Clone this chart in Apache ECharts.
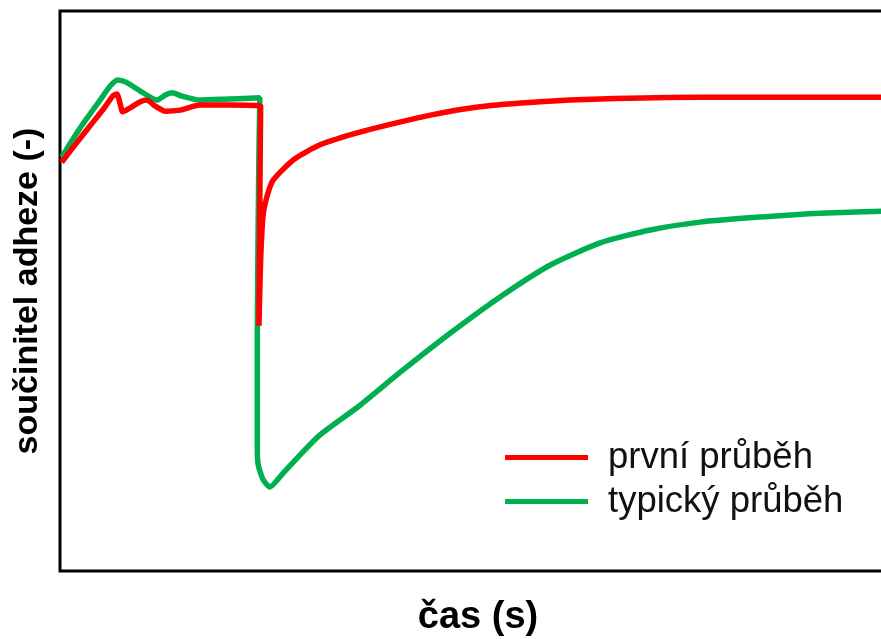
<!DOCTYPE html>
<html>
<head>
<meta charset="utf-8">
<script src="https://cdn.jsdelivr.net/npm/echarts@6/dist/echarts.min.js"></script>
<style>
  html, body { margin: 0; padding: 0; background: #fff; }
  #chart { width: 881px; height: 639px; }
</style>
</head>
<body>
<div id="chart"></div>
<script>
var chart = echarts.init(document.getElementById("chart"));

// čas (s) a součinitel adheze (-)
var prvniCas = [0.2, 1.8, 3.6, 5.4, 6.3, 6.8, 7.2, 7.5, 8.4, 9.6, 10.4, 11.4, 12.6, 14.4, 16.7, 20.3, 24.0,
  23.9, 23.8, 24.0, 24.3, 24.8, 25.5, 27.9, 31.1, 35.0, 38.3, 44.3, 50.2, 57.4, 64.6, 76.6, 88.5, 100];
var prvniHodnoty = [0.730, 0.761, 0.795, 0.829, 0.848, 0.852, 0.834, 0.820, 0.827, 0.838, 0.841, 0.830, 0.821, 0.823, 0.832, 0.832, 0.830,
  0.663, 0.438, 0.555, 0.636, 0.671, 0.698, 0.734, 0.761, 0.780, 0.793, 0.814, 0.829, 0.838, 0.843, 0.846, 0.846, 0.846];

var typickyCas = [0.2, 2.4, 4.8, 6.0, 6.9, 7.9, 9.6, 11.6, 12.6, 13.4, 14.6, 16.7, 20.3, 23.9,
  23.8, 23.6, 23.6, 23.7, 24.3, 25.1, 26.7, 28.7, 31.1, 35.9, 40.7, 46.7, 52.6, 58.6, 64.6, 70.6, 76.6, 83.7, 90.9, 100];
var typickyHodnoty = [0.739, 0.791, 0.841, 0.866, 0.877, 0.873, 0.857, 0.841, 0.850, 0.854, 0.848, 0.841, 0.843, 0.845,
  0.752, 0.430, 0.221, 0.190, 0.163, 0.150, 0.175, 0.207, 0.243, 0.296, 0.355, 0.425, 0.489, 0.546, 0.586, 0.609, 0.623, 0.632, 0.639, 0.643];

var nazvy = ["první průběh", "typický průběh"];

function pary(xs, ys) {
  var res = [];
  for (var i = 0; i < xs.length; i++) {
    res.push([xs[i], ys[i]]);
  }
  return res;
}

var font = "'Liberation Sans', Arial, sans-serif";

var option = {
  animation: false,
  grid: {
    show: true,
    left: 60,
    top: 11,
    right: -15,
    bottom: 68,
    outerBoundsMode: "none",
    containLabel: false,
    borderColor: "#000",
    borderWidth: 3,
  },
  legend: {
    orient: "vertical",
    left: 505,
    top: 439,
    padding: 0,
    icon: "rect",
    itemWidth: 83,
    itemHeight: 5,
    itemGap: 7,
    textStyle: {
      fontFamily: font,
      fontSize: 36.5,
      lineHeight: 36,
      color: "#111",
      padding: [0, 0, 0, 15],
    },
    data: nazvy,
  },
  xAxis: {
    type: "value",
    min: 0,
    max: 100,
    name: "čas (s)",
    nameLocation: "middle",
    nameGap: 28,
    nameTextStyle: { fontFamily: font, fontSize: 38, fontWeight: "bold", color: "#000" },
    axisLine: { show: false },
    axisTick: { show: false },
    axisLabel: { show: false },
    splitLine: { show: false },
  },
  yAxis: {
    type: "value",
    min: 0,
    max: 1,
    name: "součinitel adheze (-)",
    nameLocation: "middle",
    nameGap: 15,
    nameTextStyle: { fontFamily: font, fontSize: 34, fontWeight: "bold", color: "#000" },
    axisLine: { show: false },
    axisTick: { show: false },
    axisLabel: { show: false },
    splitLine: { show: false },
  },
  series: [
    {
      name: nazvy[0],
      type: "line",
      data: pary(prvniCas, prvniHodnoty),
      showSymbol: false,
      symbol: "none",
      smooth: 0.2,
      color: "#ff0000",
      lineStyle: { width: 5.5, color: "#ff0000" },
      z: 3,
    },
    {
      name: nazvy[1],
      type: "line",
      data: pary(typickyCas, typickyHodnoty),
      showSymbol: false,
      symbol: "none",
      smooth: 0.2,
      color: "#00b050",
      lineStyle: { width: 5.5, color: "#00b050" },
      z: 2,
    },
  ],
};
chart.setOption(option);
</script>
</body>
</html>
